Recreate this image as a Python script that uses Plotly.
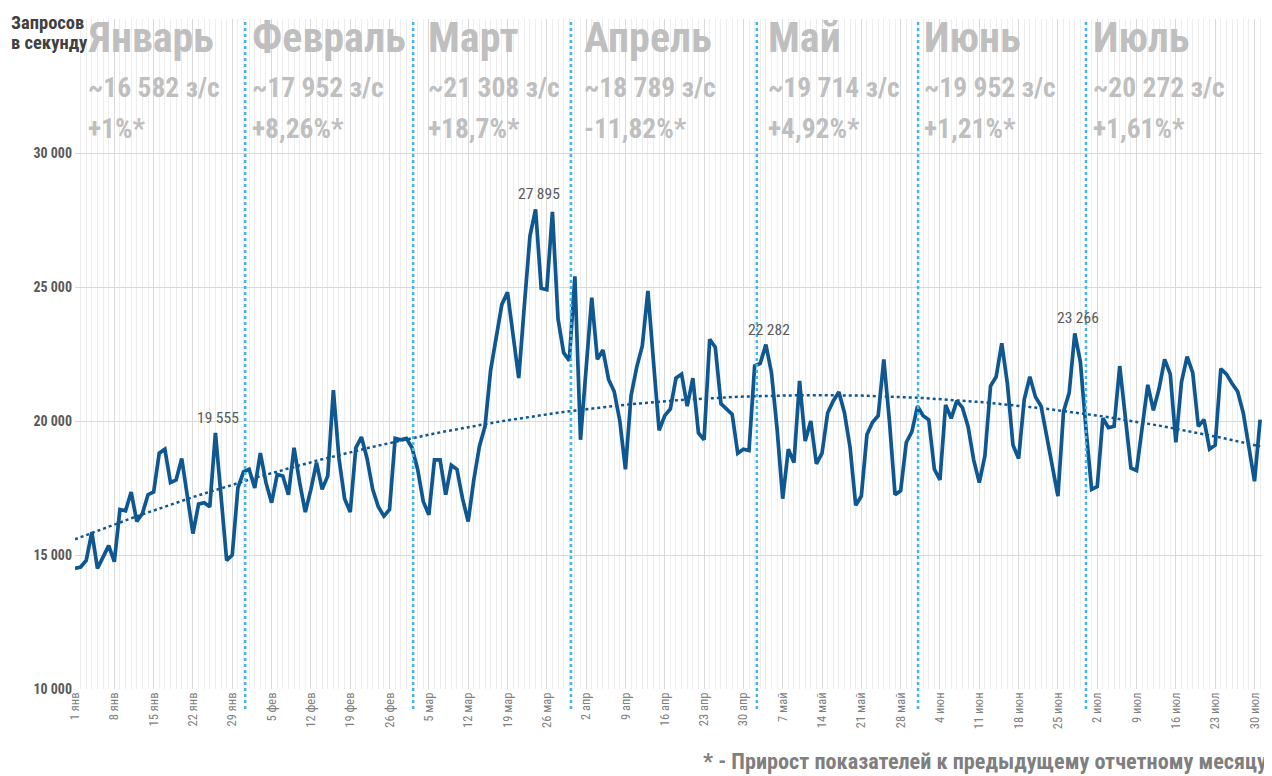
"""Запросы в секунду по дням, январь–июль."""

import numpy as np
import pandas as pd
import plotly.graph_objects as go

START = "2019-01-01"

# дневные значения, 1 янв .. 31 июл
requests_per_sec = [
    14500, 14550, 14800, 15850, 14500, 14900, 15350, 14750, 16700, 16650,
    17350, 16250, 16550, 17250, 17350, 18800, 18950, 17700, 17800, 18600,
    17200, 15800, 16900, 16950, 16800, 19555, 17200, 14800, 15000, 17500,
    18100, 18200, 17500, 18800, 17700, 16950, 18000, 17950, 17250, 19000,
    17700, 16600, 17450, 18450, 17450, 17950, 21150, 18600, 17100, 16600,
    19000, 19400, 18600, 17450, 16800, 16450, 16700, 19350, 19300, 19350,
    19000, 18200, 17000, 16500, 18550, 18550, 17250, 18350, 18200, 17100,
    16250, 17800, 19050, 19800, 21900, 23150, 24350, 24800, 23300, 21600,
    24300, 26900, 27895, 24950, 24900, 27800, 23800, 22550, 22250, 25400,
    19300, 21950, 24600, 22300, 22650, 21550, 21100, 20000, 18200, 20950,
    22000, 22800, 24850, 22200, 19650, 20200, 20450, 21600, 21750, 20550,
    21600, 19550, 19300, 23050, 22750, 20650, 20450, 20250, 18800, 18950,
    18900, 22050, 22150, 22850, 21800, 19700, 17100, 18950, 18450, 21500,
    19250, 20000, 18400, 18800, 20300, 20750, 21080, 20300, 19000, 16850,
    17200, 19500, 19950, 20200, 22300, 20000, 17250, 17400, 19200, 19600,
    20550, 20200, 20050, 18200, 17800, 20600, 20100, 20750, 20500, 19800,
    18550, 17700, 18700, 21300, 21650, 22900, 21400, 19100, 18600, 20800,
    21650, 20900, 20550, 19450, 18300, 17200, 20350, 21050, 23266, 22200,
    19700, 17450, 17550, 20100, 19750, 19800, 22050, 20000, 18250, 18150,
    19700, 21350, 20400, 21200, 22300, 21750, 19200, 21450, 22400, 21800,
    19800, 20050, 18950, 19100, 21950, 21750, 21400, 21100, 20300, 19100,
    17750, 20050,
]

# подписи пиков: индекс дня -> текст
peak_labels = {25: "19 555", 82: "27 895", 123: "22 282", 178: "23 266"}

month_names = ["Январь", "Февраль", "Март", "Апрель", "Май", "Июнь", "Июль"]
month_avg = ["~16 582 з/с", "~17 952 з/с", "~21 308 з/с", "~18 789 з/с",
             "~19 714 з/с", "~19 952 з/с", "~20 272 з/с"]
month_growth = ["+1%*", "+8,26%*", "+18,7%*", "-11,82%*", "+4,92%*",
                "+1,21%*", "+1,61%*"]
month_abbr = ["янв", "фев", "мар", "апр", "май", "июн", "июл"]
# где нарисованы синие разделители месяцев (в днях от 1 янв)
month_split_days = [30.3, 60.2, 88.3, 121.4, 150.1, 180.0]
# где начинаются подписи месяцев (в днях от 1 янв)
month_label_days = [2.3, 31.5, 62.9, 90.6, 123.4, 151.2, 181.3]

y_ticks = [10000, 15000, 20000, 25000, 30000, 35000]

FONT = "Roboto Condensed, Roboto, sans-serif"
BLUE = "#0E5791"
SPLIT_BLUE = "#45B5E6"
MONTH_GREY = "#BFBFBF"

dates = pd.date_range(START, periods=len(requests_per_sec), freq="D")
t = np.arange(len(requests_per_sec))

# полиномиальный тренд 2-й степени, как в Excel
coef = np.polyfit(t, requests_per_sec, 2)
trend = np.polyval(coef, t)

tick_dates = dates[::7]
tick_text = [f"{d.day} {month_abbr[d.month - 1]}" for d in tick_dates]


def day_to_date(offset):
    return str(dates[0] + pd.Timedelta(days=offset))


fig = go.Figure()

fig.add_trace(go.Scatter(
    x=dates, y=trend, mode="lines",
    line=dict(color=BLUE, width=2.5, dash="dot"),
    hoverinfo="skip",
))
fig.add_trace(go.Scatter(
    x=dates, y=requests_per_sec, mode="lines",
    line=dict(color=BLUE, width=3.7),
    hovertemplate="%{x|%d.%m}: %{y:,} з/с<extra></extra>",
))

for d in month_split_days:
    fig.add_shape(
        type="line", xref="x", yref="paper",
        x0=day_to_date(d), x1=day_to_date(d), y0=-0.03, y1=1,
        line=dict(color=SPLIT_BLUE, width=2.5, dash="dot"),
    )

# заголовки месяцев
for d, name, avg, growth in zip(month_label_days, month_names, month_avg, month_growth):
    x = day_to_date(d)
    fig.add_annotation(x=x, xshift=-2, y=34300, text=name,
                       showarrow=False, xanchor="left", yanchor="middle",
                       font=dict(size=42, color=MONTH_GREY, family=FONT, weight="bold"))
    fig.add_annotation(x=x, xshift=-2, y=32450, text=avg,
                       showarrow=False, xanchor="left", yanchor="middle",
                       font=dict(size=27.5, color=MONTH_GREY, family=FONT, weight="bold"))
    fig.add_annotation(x=x, xshift=-2, y=30900, text=growth,
                       showarrow=False, xanchor="left", yanchor="middle",
                       font=dict(size=27.5, color=MONTH_GREY, family=FONT, weight="bold"))

for i, label in peak_labels.items():
    fig.add_annotation(x=dates[i], y=requests_per_sec[i], text=label,
                       showarrow=False, yanchor="bottom", yshift=4, xshift=3,
                       font=dict(size=15.5, color="#595959", family=FONT))

fig.add_annotation(xref="paper", yref="paper", x=-0.0555, y=0.994,
                   text="Запросов", showarrow=False,
                   xanchor="left", yanchor="middle",
                   font=dict(size=18.5, color="#404040", family=FONT, weight="bold"))
fig.add_annotation(xref="paper", yref="paper", x=-0.0555, y=0.964,
                   text="в секунду", showarrow=False,
                   xanchor="left", yanchor="middle",
                   font=dict(size=18.5, color="#404040", family=FONT, weight="bold"))

fig.add_annotation(xref="paper", yref="paper", x=1.006, y=-0.108,
                   text="* - Прирост показателей к предыдущему отчетному месяцу",
                   showarrow=False, xanchor="right", yanchor="middle",
                   font=dict(size=22.2, color="#7F7F7F", family=FONT, weight="bold"))

fig.update_xaxes(
    range=[dates[0], dates[-1] + pd.Timedelta(hours=8)],
    tickmode="array", tickvals=tick_dates, ticktext=tick_text,
    tickangle=-90, tickfont=dict(size=12.5, color="#7F7F7F", family=FONT),
    showgrid=True, gridcolor="#D9D9D9", gridwidth=1,
    minor=dict(tickmode="linear", tick0=dates[0], dtick=86400000,
               showgrid=True, gridcolor="#EDEDED", gridwidth=1),
    zeroline=False, showline=False, ticks="",
)
fig.update_yaxes(
    range=[10000, 35000],
    tickmode="array", tickvals=y_ticks,
    ticktext=[f"{v:,}".replace(",", " ") if v < 35000 else "" for v in y_ticks],
    tickfont=dict(size=14, color="#595959", family=FONT, weight="bold"),
    ticklabelstandoff=2,
    showgrid=True, gridcolor="#D9D9D9", gridwidth=1,
    zeroline=False, showline=False, ticks="",
)

# страница добавляет отступ 8px, поэтому фигура на 8px меньше окна
fig.update_layout(
    width=1264, height=768,
    margin=dict(l=67, r=10, t=11, b=87),
    plot_bgcolor="white", paper_bgcolor="white",
    showlegend=False,
    font=dict(family=FONT, color="#595959"),
)

fig.write_html("out.html")
